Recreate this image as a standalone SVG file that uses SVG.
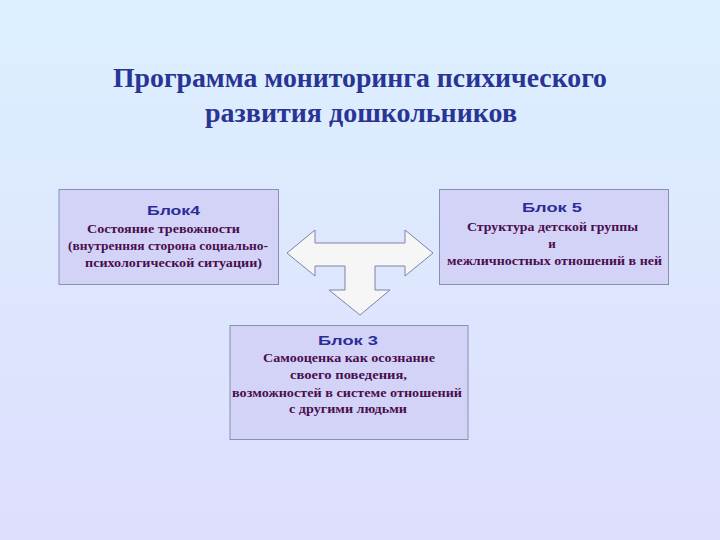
<svg xmlns="http://www.w3.org/2000/svg" width="720" height="540" viewBox="0 0 720 540">
<defs>
<linearGradient id="bg" x1="0" y1="0" x2="0" y2="1">
<stop offset="0" stop-color="#DCF0FF"/>
<stop offset="1" stop-color="#DEDEFD"/>
</linearGradient>
<style>
.box{fill:#D3D3F8;stroke:#8890B4;stroke-width:1}
.hd{font-family:"Liberation Sans",Arial,sans-serif;font-weight:bold;font-size:13.5px;fill:#2C2C98}
.tx{font-family:"Liberation Serif","Times New Roman",serif;font-weight:bold;font-size:13px;fill:#4A0E4E}
.ti{font-family:"Liberation Serif","Times New Roman",serif;font-weight:bold;font-size:27.5px;fill:#2A3494}
</style>
</defs>
<rect width="720" height="540" fill="url(#bg)"/>
<g id="title">
<text class="ti" x="113" y="87" textLength="494" lengthAdjust="spacingAndGlyphs">Программа мониторинга психического</text>
<text class="ti" x="205" y="122" textLength="312" lengthAdjust="spacingAndGlyphs">развития дошкольников</text>
</g>
<g id="block4">
<rect class="box" x="59" y="189.5" width="219.5" height="95"/>
<text class="hd" x="147" y="215" textLength="53" lengthAdjust="spacingAndGlyphs">Блок4</text>
<text class="tx" x="87" y="233" textLength="153" lengthAdjust="spacingAndGlyphs">Состояние тревожности</text>
<text class="tx" x="68" y="250" textLength="200" lengthAdjust="spacingAndGlyphs">(внутренняя сторона социально-</text>
<text class="tx" x="85" y="267" textLength="177" lengthAdjust="spacingAndGlyphs">психологической ситуации)</text>
</g>
<g id="block5">
<rect class="box" x="439.5" y="189.5" width="229" height="95"/>
<text class="hd" x="522" y="212" textLength="60" lengthAdjust="spacingAndGlyphs">Блок 5</text>
<text class="tx" x="467" y="231" textLength="171" lengthAdjust="spacingAndGlyphs">Структура детской группы</text>
<text class="tx" x="552" y="248" text-anchor="middle">и</text>
<text class="tx" x="447" y="265" textLength="215" lengthAdjust="spacingAndGlyphs">межличностных отношений в ней</text>
</g>
<g id="block3">
<rect class="box" x="230" y="325.5" width="238" height="114"/>
<text class="hd" x="318" y="345" textLength="60" lengthAdjust="spacingAndGlyphs">Блок 3</text>
<text class="tx" x="263" y="362" textLength="172" lengthAdjust="spacingAndGlyphs">Самооценка как осознание</text>
<text class="tx" x="290" y="379" textLength="117" lengthAdjust="spacingAndGlyphs">своего поведения,</text>
<text class="tx" x="232" y="397" textLength="230" lengthAdjust="spacingAndGlyphs">возможностей в системе отношений</text>
<text class="tx" x="289" y="413" textLength="118" lengthAdjust="spacingAndGlyphs">с другими людьми</text>
</g>
<g id="connectors">
<path d="M287,253 L315,230 L315,243 L405,243 L405,230 L433,253 L405,276 L405,266 L375,266 L375,290 L390,290 L360,315 L329,290 L345,290 L345,266 L315,266 L315,276 Z" fill="#F6F6F6" stroke="#7C84A4" stroke-width="1"/>
</g>
</svg>
